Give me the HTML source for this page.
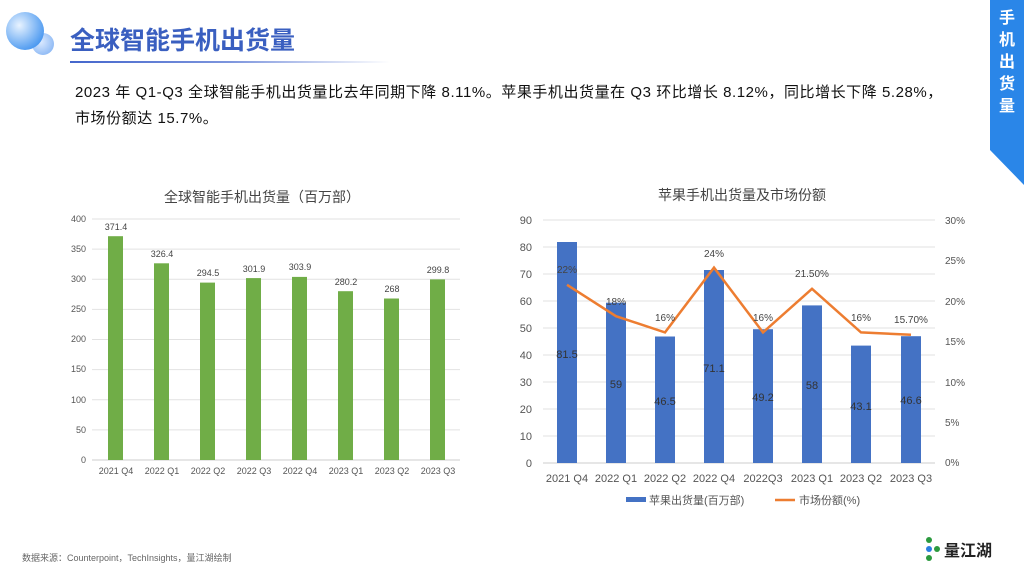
<!DOCTYPE html>
<html><head><meta charset="utf-8"><style>
body{margin:0;width:1024px;height:576px;background:#fff;overflow:hidden;font-family:"Liberation Sans","Noto Sans CJK SC",sans-serif;}
</style></head><body>
<svg width="1024" height="576" viewBox="0 0 1024 576" xmlns="http://www.w3.org/2000/svg" font-family="Liberation Sans, Noto Sans CJK SC, sans-serif">
<defs>
<radialGradient id="b1" cx="0.35" cy="0.35" r="0.7"><stop offset="0" stop-color="#e8f3ff"/><stop offset="1" stop-color="#4a98f0"/></radialGradient>
<radialGradient id="b2" cx="0.4" cy="0.4" r="0.7"><stop offset="0" stop-color="#dceaff"/><stop offset="1" stop-color="#88b6f4"/></radialGradient>
<linearGradient id="ul" x1="0" x2="1"><stop offset="0" stop-color="#4466cc"/><stop offset="0.5" stop-color="#7d95dd"/><stop offset="1" stop-color="#fff"/></linearGradient>
</defs>
<circle cx="43" cy="44" r="11" fill="url(#b2)"/>
<circle cx="25" cy="31" r="19" fill="url(#b1)"/>
<text x="70" y="49" font-size="25" font-weight="bold" fill="#3a5fc0">全球智能手机出货量</text>
<rect x="70" y="61" width="320" height="2" fill="url(#ul)"/>
<polygon points="990,0 1024,0 1024,185 990,150" fill="#2a86e8"/>
<g fill="#fff" font-size="16" font-weight="bold" text-anchor="middle"><text x="1007" y="23">手</text><text x="1007" y="45">机</text><text x="1007" y="67">出</text><text x="1007" y="89">货</text><text x="1007" y="111">量</text></g>
<text x="75" y="97" font-size="15" letter-spacing="0.55" fill="#111">2023 年 Q1-Q3 全球智能手机出货量比去年同期下降 8.11%。苹果手机出货量在 Q3 环比增长 8.12%，同比增长下降 5.28%，</text>
<text x="75" y="123" font-size="15" letter-spacing="0.55" fill="#111">市场份额达 15.7%。</text>

<!-- left chart -->
<text x="262" y="202" font-size="14" fill="#444" text-anchor="middle">全球智能手机出货量（百万部）</text>
<g stroke="#e2e2e2" stroke-width="1">
<line x1="92" x2="460" y1="219" y2="219"/><line x1="92" x2="460" y1="249.1" y2="249.1"/><line x1="92" x2="460" y1="279.3" y2="279.3"/><line x1="92" x2="460" y1="309.4" y2="309.4"/><line x1="92" x2="460" y1="339.5" y2="339.5"/><line x1="92" x2="460" y1="369.6" y2="369.6"/><line x1="92" x2="460" y1="399.8" y2="399.8"/><line x1="92" x2="460" y1="429.9" y2="429.9"/><line x1="92" x2="460" y1="460" y2="460" stroke="#ccc"/>
</g>
<g font-size="9" fill="#555" text-anchor="end">
<text x="86" y="222">400</text><text x="86" y="252">350</text><text x="86" y="282">300</text><text x="86" y="312">250</text><text x="86" y="342">200</text><text x="86" y="372">150</text><text x="86" y="403">100</text><text x="86" y="433">50</text><text x="86" y="463">0</text>
</g>
<g fill="#70ad47">
<rect x="108" y="236.2" width="15" height="223.8"/><rect x="154" y="263.3" width="15" height="196.7"/><rect x="200" y="282.6" width="15" height="177.4"/><rect x="246" y="278.1" width="15" height="181.9"/><rect x="292" y="276.9" width="15" height="183.1"/><rect x="338" y="291.2" width="15" height="168.8"/><rect x="384" y="298.5" width="15" height="161.5"/><rect x="430" y="279.4" width="15" height="180.6"/>
</g>
<g font-size="9" fill="#444" text-anchor="middle">
<text x="116" y="230">371.4</text><text x="162" y="257">326.4</text><text x="208" y="276">294.5</text><text x="254" y="272">301.9</text><text x="300" y="270">303.9</text><text x="346" y="285">280.2</text><text x="392" y="292">268</text><text x="438" y="273">299.8</text>
</g>
<g font-size="9" fill="#555" text-anchor="middle">
<text x="116" y="474">2021 Q4</text><text x="162" y="474">2022 Q1</text><text x="208" y="474">2022 Q2</text><text x="254" y="474">2022 Q3</text><text x="300" y="474">2022 Q4</text><text x="346" y="474">2023 Q1</text><text x="392" y="474">2023 Q2</text><text x="438" y="474">2023 Q3</text>
</g>

<!-- right chart -->
<text x="742" y="200" font-size="14" fill="#444" text-anchor="middle">苹果手机出货量及市场份额</text>
<g stroke="#e2e2e2" stroke-width="1">
<line x1="543" x2="935" y1="220" y2="220"/><line x1="543" x2="935" y1="247" y2="247"/><line x1="543" x2="935" y1="274" y2="274"/><line x1="543" x2="935" y1="301" y2="301"/><line x1="543" x2="935" y1="328" y2="328"/><line x1="543" x2="935" y1="355" y2="355"/><line x1="543" x2="935" y1="382" y2="382"/><line x1="543" x2="935" y1="409" y2="409"/><line x1="543" x2="935" y1="436" y2="436"/><line x1="543" x2="935" y1="463" y2="463" stroke="#ccc"/>
</g>
<g font-size="11" fill="#555" text-anchor="end">
<text x="532" y="224">90</text><text x="532" y="251">80</text><text x="532" y="278">70</text><text x="532" y="305">60</text><text x="532" y="332">50</text><text x="532" y="359">40</text><text x="532" y="386">30</text><text x="532" y="413">20</text><text x="532" y="440">10</text><text x="532" y="467">0</text>
</g>
<g font-size="10" fill="#555">
<text x="945" y="224">30%</text><text x="945" y="264">25%</text><text x="945" y="305">20%</text><text x="945" y="345">15%</text><text x="945" y="386">10%</text><text x="945" y="426">5%</text><text x="945" y="466">0%</text>
</g>
<g fill="#4472c4">
<rect x="557" y="242" width="20" height="221"/><rect x="606" y="302.7" width="20" height="160.3"/><rect x="655" y="336.5" width="20" height="126.5"/><rect x="704" y="270" width="20" height="193"/><rect x="753" y="329.2" width="20" height="133.8"/><rect x="802" y="305.4" width="20" height="157.6"/><rect x="851" y="345.6" width="20" height="117.4"/><rect x="901" y="336.2" width="20" height="126.8"/>
</g>
<polyline points="567,284.8 616,316.2 665,332.4 714,267.6 763,332.4 812,288.8 861,332.4 911,334.8" fill="none" stroke="#ed7d31" stroke-width="2.5"/>
<g font-size="11" fill="#333" text-anchor="middle">
<text x="567" y="358">81.5</text><text x="616" y="388">59</text><text x="665" y="405">46.5</text><text x="714" y="372">71.1</text><text x="763" y="401">49.2</text><text x="812" y="389">58</text><text x="861" y="410">43.1</text><text x="911" y="404">46.6</text>
</g>
<g font-size="10" fill="#444" text-anchor="middle">
<text x="567" y="273">22%</text><text x="616" y="305">18%</text><text x="665" y="321">16%</text><text x="714" y="257">24%</text><text x="763" y="321">16%</text><text x="812" y="277">21.50%</text><text x="861" y="321">16%</text><text x="911" y="323">15.70%</text>
</g>
<g font-size="11" fill="#555" text-anchor="middle">
<text x="567" y="482">2021 Q4</text><text x="616" y="482">2022 Q1</text><text x="665" y="482">2022 Q2</text><text x="714" y="482">2022 Q4</text><text x="763" y="482">2022Q3</text><text x="812" y="482">2023 Q1</text><text x="861" y="482">2023 Q2</text><text x="911" y="482">2023 Q3</text>
</g>
<rect x="626" y="497" width="20" height="5" fill="#4472c4"/>
<text x="649" y="504" font-size="11" fill="#555">苹果出货量(百万部)</text>
<line x1="775" x2="795" y1="500" y2="500" stroke="#ed7d31" stroke-width="2.5"/>
<text x="799" y="504" font-size="11" fill="#555">市场份额(%)</text>

<text x="22" y="561" font-size="9" fill="#666">数据来源：Counterpoint，TechInsights，量江湖绘制</text>
<g>
<circle cx="929" cy="540" r="3" fill="#2b9a3e"/><circle cx="929" cy="549" r="3" fill="#2b7ee0"/><circle cx="929" cy="558" r="3" fill="#2b9a3e"/><circle cx="937" cy="549" r="3" fill="#2b9a3e"/>
</g>
<text x="944" y="556" font-size="16" font-weight="bold" fill="#222">量江湖</text>
</svg>
</body></html>
